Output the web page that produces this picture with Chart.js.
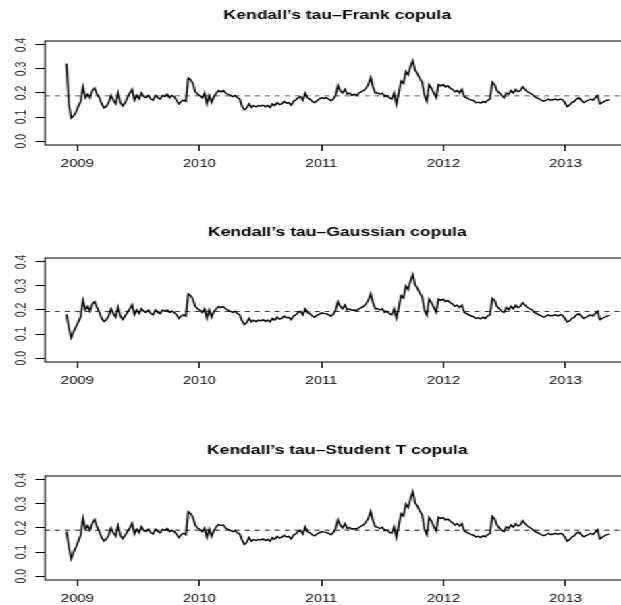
<!DOCTYPE html>
<html>
<head>
<meta charset="utf-8">
<script src="https://cdn.jsdelivr.net/npm/chart.js@4"></script>
<style>
  html, body { margin: 0; padding: 0; background: #fff; overflow: hidden; width: 621px; height: 605px; }
  #wrap { position: absolute; left: 0; top: 0; width: 480px; height: 605px; transform: scaleX(1.35); transform-origin: 0 0; }
  #wrap canvas { position: absolute; left: 0; }
</style>
</head>
<body>
<div id="wrap">
  <canvas id="c1" width="480" height="185" style="top:1px"></canvas>
  <canvas id="c2" width="480" height="185" style="top:218px"></canvas>
  <canvas id="c3" width="480" height="185" style="top:436px"></canvas>
</div>
<script>
// Weekly Kendall's tau estimates, first observation late Nov 2008
const startYear = 2008.912;
const weekInYears = 7 / 365.25;

const titles = [
  "Kendall\u2019s tau\u2013Frank copula",
  "Kendall\u2019s tau\u2013Gaussian copula",
  "Kendall\u2019s tau\u2013Student T copula"
];

const tauFrank = [
  0.322, 0.15, 0.096, 0.105, 0.12, 0.145, 0.165, 0.225, 0.18, 0.195,
  0.18, 0.21, 0.22, 0.195, 0.18, 0.155, 0.138, 0.145, 0.16, 0.19,
  0.17, 0.155, 0.2, 0.16, 0.145, 0.16, 0.18, 0.2, 0.215, 0.17,
  0.19, 0.175, 0.2, 0.185, 0.18, 0.19, 0.175, 0.17, 0.19, 0.18,
  0.175, 0.19, 0.185, 0.195, 0.18, 0.19, 0.185, 0.17, 0.155, 0.165,
  0.17, 0.165, 0.262, 0.255, 0.24, 0.205, 0.195, 0.19, 0.18, 0.2,
  0.155, 0.19, 0.16, 0.185, 0.2, 0.21, 0.205, 0.21, 0.2, 0.195,
  0.19, 0.185, 0.19, 0.18, 0.175, 0.145, 0.13, 0.138, 0.155, 0.14,
  0.148, 0.142, 0.148, 0.145, 0.15, 0.143, 0.148, 0.14, 0.155, 0.148,
  0.16, 0.152, 0.155, 0.165, 0.158, 0.16, 0.15, 0.165, 0.172, 0.18,
  0.185, 0.17, 0.2, 0.18, 0.175, 0.165, 0.16, 0.168, 0.175, 0.18,
  0.178, 0.18, 0.175, 0.168, 0.175, 0.19, 0.232, 0.21, 0.2, 0.215,
  0.195, 0.2, 0.19, 0.195, 0.19, 0.2, 0.205, 0.21, 0.22, 0.235,
  0.265, 0.225, 0.2, 0.2, 0.195, 0.2, 0.185, 0.19, 0.18, 0.175,
  0.2, 0.152, 0.2, 0.25, 0.24, 0.29, 0.275, 0.31, 0.335, 0.295,
  0.28, 0.26, 0.245, 0.19, 0.165, 0.235, 0.22, 0.2, 0.18, 0.235,
  0.23, 0.235, 0.225, 0.23, 0.22, 0.215, 0.205, 0.21, 0.2, 0.215,
  0.185, 0.18, 0.175, 0.17, 0.168, 0.16, 0.162, 0.158, 0.165, 0.16,
  0.17, 0.175, 0.245, 0.235, 0.21, 0.2, 0.19, 0.18, 0.2, 0.195,
  0.21, 0.2, 0.215, 0.205, 0.21, 0.225, 0.215, 0.205, 0.2, 0.195,
  0.185, 0.18, 0.175, 0.17, 0.165, 0.17, 0.175, 0.17, 0.172, 0.175,
  0.17, 0.175, 0.172, 0.16, 0.143, 0.15, 0.16, 0.165, 0.175, 0.18,
  0.17, 0.16, 0.165, 0.17, 0.175, 0.17, 0.18, 0.19, 0.155, 0.16,
  0.165, 0.17, 0.172
];

const tauGaussian = [
  0.182, 0.125, 0.085, 0.11, 0.13, 0.15, 0.172, 0.24, 0.2, 0.215,
  0.195, 0.225, 0.235, 0.21, 0.19, 0.165, 0.152, 0.16, 0.175, 0.205,
  0.185, 0.17, 0.212, 0.175, 0.16, 0.175, 0.19, 0.205, 0.222, 0.18,
  0.2, 0.185, 0.205, 0.195, 0.19, 0.2, 0.185, 0.18, 0.2, 0.19,
  0.185, 0.2, 0.195, 0.2, 0.19, 0.195, 0.19, 0.18, 0.165, 0.175,
  0.18, 0.175, 0.267, 0.26, 0.245, 0.215, 0.205, 0.2, 0.19, 0.205,
  0.165, 0.2, 0.17, 0.195, 0.205, 0.215, 0.21, 0.215, 0.205, 0.2,
  0.195, 0.19, 0.195, 0.185, 0.18, 0.155, 0.14, 0.148, 0.165, 0.15,
  0.158, 0.152, 0.158, 0.155, 0.16, 0.153, 0.158, 0.15, 0.165, 0.158,
  0.17, 0.162, 0.165, 0.175, 0.168, 0.17, 0.16, 0.175, 0.18, 0.19,
  0.195, 0.18, 0.205, 0.19, 0.185, 0.175, 0.17, 0.178, 0.182, 0.188,
  0.186, 0.185, 0.18, 0.175, 0.182, 0.2, 0.235, 0.215, 0.205, 0.22,
  0.2, 0.205, 0.198, 0.2, 0.198, 0.205, 0.21, 0.215, 0.225, 0.24,
  0.268, 0.23, 0.205, 0.205, 0.2, 0.205, 0.19, 0.195, 0.185, 0.18,
  0.205, 0.165, 0.21, 0.26, 0.25, 0.3, 0.285, 0.32, 0.348, 0.305,
  0.29, 0.27, 0.255, 0.2, 0.178, 0.245, 0.23, 0.21, 0.19, 0.245,
  0.24, 0.245, 0.235, 0.24, 0.23, 0.225, 0.215, 0.22, 0.21, 0.22,
  0.19, 0.185, 0.18, 0.175, 0.172, 0.165, 0.168, 0.163, 0.17, 0.165,
  0.175, 0.18, 0.248, 0.24, 0.215, 0.205, 0.195, 0.19, 0.21, 0.2,
  0.215, 0.205, 0.22, 0.21, 0.215, 0.23, 0.22, 0.21, 0.205, 0.2,
  0.19, 0.185, 0.18, 0.175, 0.17, 0.175, 0.18, 0.175, 0.178, 0.18,
  0.175, 0.18, 0.178, 0.165, 0.15, 0.155, 0.165, 0.17, 0.18, 0.185,
  0.175, 0.165, 0.17, 0.175, 0.18, 0.175, 0.185, 0.195, 0.16, 0.165,
  0.17, 0.175, 0.178
];

const tauStudent = [
  0.185, 0.12, 0.072, 0.1, 0.12, 0.145, 0.17, 0.24, 0.195, 0.21,
  0.19, 0.22, 0.235, 0.205, 0.185, 0.16, 0.145, 0.155, 0.17, 0.2,
  0.18, 0.165, 0.21, 0.17, 0.155, 0.17, 0.185, 0.2, 0.22, 0.175,
  0.195, 0.18, 0.205, 0.19, 0.185, 0.195, 0.18, 0.175, 0.195, 0.185,
  0.18, 0.195, 0.19, 0.198, 0.185, 0.19, 0.185, 0.175, 0.16, 0.172,
  0.178, 0.172, 0.268, 0.26, 0.245, 0.212, 0.2, 0.195, 0.185, 0.2,
  0.16, 0.195, 0.165, 0.19, 0.205, 0.215, 0.21, 0.212, 0.2, 0.195,
  0.19, 0.185, 0.19, 0.18, 0.175, 0.15, 0.132, 0.14, 0.16, 0.145,
  0.152, 0.148, 0.153, 0.15, 0.155, 0.148, 0.153, 0.145, 0.16, 0.153,
  0.165, 0.158, 0.162, 0.17, 0.163, 0.165, 0.155, 0.17, 0.176, 0.185,
  0.19, 0.175, 0.205, 0.185, 0.18, 0.172, 0.167, 0.175, 0.18, 0.185,
  0.183, 0.182, 0.178, 0.172, 0.18, 0.198, 0.235, 0.212, 0.2, 0.218,
  0.198, 0.202, 0.195, 0.198, 0.196, 0.202, 0.208, 0.213, 0.225, 0.24,
  0.27, 0.23, 0.205, 0.203, 0.198, 0.203, 0.188, 0.192, 0.182, 0.178,
  0.205, 0.16, 0.21, 0.26, 0.25, 0.3, 0.285, 0.32, 0.352, 0.305,
  0.29, 0.27, 0.255, 0.195, 0.172, 0.243, 0.228, 0.205, 0.188, 0.245,
  0.24, 0.243, 0.233, 0.238, 0.228, 0.222, 0.212, 0.218, 0.208, 0.218,
  0.188, 0.182, 0.178, 0.172, 0.17, 0.163, 0.166, 0.16, 0.168, 0.163,
  0.172, 0.178, 0.248, 0.238, 0.212, 0.2, 0.19, 0.185, 0.205, 0.198,
  0.212, 0.203, 0.218, 0.208, 0.213, 0.23, 0.218, 0.208, 0.202, 0.196,
  0.188, 0.182, 0.178, 0.172, 0.168, 0.172, 0.178, 0.172, 0.175, 0.178,
  0.173, 0.178, 0.175, 0.162, 0.145, 0.152, 0.162, 0.168, 0.178, 0.183,
  0.172, 0.163, 0.168, 0.172, 0.178, 0.173, 0.182, 0.193, 0.155, 0.162,
  0.168, 0.173, 0.176
];

// Full-sample average tau for each copula (dashed reference level)
const meanTau = [0.188, 0.194, 0.191];

const yearTicks = [2009, 2010, 2011, 2012, 2013];
const yTickValues = [0, 0.1, 0.2, 0.3, 0.4];
const yTickLabels = ["0.0", "0.1", "0.2", "0.3", "0.4"];

const xMin = 2008.735, xMax = 2013.525;
const yMin = -0.016, yMax = 0.416;

const FONT = '"Liberation Sans", Arial, Helvetica, sans-serif';

// Box round the plot region, panel title centred over it, vertical y-axis labels
const framePlugin = {
  id: 'frame',
  afterDraw(chart, args, opts) {
    const { ctx, chartArea: a, scales: { y } } = chart;
    ctx.save();
    ctx.strokeStyle = '#000';
    ctx.lineWidth = 1;
    ctx.strokeRect(a.left, a.top, a.right - a.left, a.bottom - a.top);

    ctx.fillStyle = '#000';
    ctx.font = 'bold 13px ' + FONT;
    ctx.textAlign = 'center';
    ctx.textBaseline = 'middle';
    ctx.fillText(opts.text, (a.left + a.right) / 2, a.top - 26);

    ctx.fillStyle = '#222';
    ctx.font = '10.5px ' + FONT;
    yTickValues.forEach((v, i) => {
      const py = y.getPixelForValue(v);
      ctx.save();
      ctx.translate(a.left - 17.5, py);
      ctx.rotate(-Math.PI / 2);
      ctx.fillText(yTickLabels[i], 0, 0);
      ctx.restore();
    });
    ctx.restore();
  }
};

const series = [tauFrank, tauGaussian, tauStudent];
const dashColors = ['#555', '#333', '#111'];

series.forEach((values, k) => {
  const points = values.map((v, i) => ({ x: startYear + i * weekInYears, y: v }));
  new Chart(document.getElementById('c' + (k + 1)), {
    type: 'line',
    data: {
      datasets: [
        {
          data: points,
          borderColor: '#000',
          borderWidth: 1.4,
          pointRadius: 0,
          tension: 0,
          fill: false
        },
        {
          data: [{ x: xMin, y: meanTau[k] }, { x: xMax, y: meanTau[k] }],
          borderColor: dashColors[k],
          borderWidth: 1,
          borderDash: [3.7, 3.7],
          pointRadius: 0,
          fill: false
        }
      ]
    },
    options: {
      responsive: false,
      animation: false,
      devicePixelRatio: 1,
      layout: { padding: { left: 0, right: 13.6, top: 40, bottom: 0 } },
      plugins: {
        legend: { display: false },
        tooltip: { enabled: false },
        title: { display: false },
        frame: { text: titles[k] }
      },
      scales: {
        x: {
          type: 'linear',
          min: xMin,
          max: xMax,
          afterBuildTicks: s => { s.ticks = yearTicks.map(v => ({ value: v })); },
          afterFit: s => { s.height = 41; },
          ticks: {
            color: '#000',
            font: { family: FONT, size: 11 },
            padding: 6,
            maxRotation: 0,
            autoSkip: false,
            callback: v => String(v)
          },
          grid: { display: true, drawOnChartArea: false, drawTicks: true, tickLength: 6, color: '#000', lineWidth: 1 },
          border: { display: false }
        },
        y: {
          min: yMin,
          max: yMax,
          afterBuildTicks: s => { s.ticks = yTickValues.map(v => ({ value: v })); },
          afterFit: s => { s.width = 33.3; },
          ticks: { display: false },
          grid: { display: true, drawOnChartArea: false, drawTicks: true, tickLength: 7, color: '#000', lineWidth: 1 },
          border: { display: false }
        }
      }
    },
    plugins: [framePlugin]
  });
});
</script>
</body>
</html>
